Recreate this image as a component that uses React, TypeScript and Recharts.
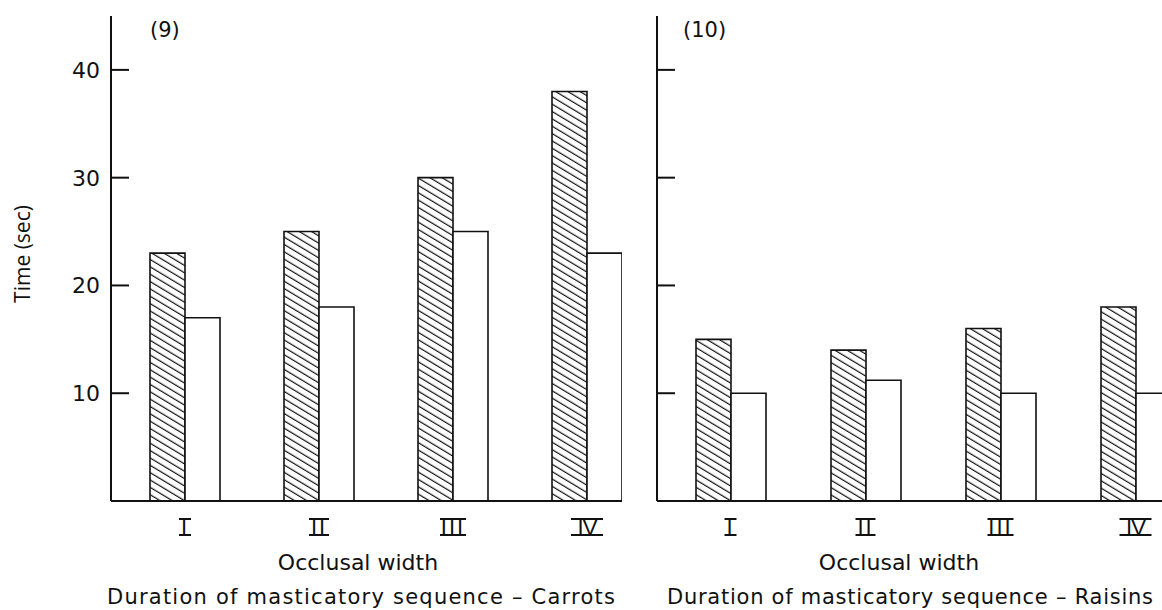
import { BarChart, Bar, XAxis, YAxis } from 'recharts';

// Occlusal width groups
const categories = ['I', 'II', 'III', 'IV'];

// Duration of masticatory sequence (sec)
const carrotsHatched = [23, 25, 30, 38];
const carrotsOpen = [17, 18, 25, 23];
const raisinsHatched = [15, 14, 16, 18];
const raisinsOpen = [10, 11.2, 10, 10];

const yTicks = [10, 20, 30, 40];
const yDomain = [0, 45];

const textFont = '"DejaVu Sans", sans-serif';
const AXIS_X = 20; // y axis position inside each panel svg

const carrotsData = categories.map((c, i) => ({
  group: c,
  hatched: carrotsHatched[i],
  open: carrotsOpen[i],
}));
const raisinsData = categories.map((c, i) => ({
  group: c,
  hatched: raisinsHatched[i],
  open: raisinsOpen[i],
}));

// width of the serif bars drawn above/below each roman numeral
const numeralWidth: Record<string, number> = { I: 12, II: 20, III: 26, IV: 32 };

function YTick({ y }: any) {
  return <line x1={AXIS_X} y1={y} x2={AXIS_X + 18} y2={y} stroke="#111" strokeWidth={2} />;
}

function XTick({ x, y, payload }: any) {
  const w = numeralWidth[payload.value] || 14;
  const top = y + 18;
  const base = y + 34;
  return (
    <g>
      <text
        x={x}
        y={base}
        textAnchor="middle"
        fontSize={22}
        fontFamily='"Liberation Sans", sans-serif'
        letterSpacing={payload.value === 'IV' ? -1 : 2}
        fill="#111"
      >
        {payload.value}
      </text>
      <line x1={x - w / 2} y1={top} x2={x + w / 2} y2={top} stroke="#111" strokeWidth={2} />
      <line x1={x - w / 2} y1={base} x2={x + w / 2} y2={base} stroke="#111" strokeWidth={2} />
    </g>
  );
}

function Panel({ data, id, padLeft, plotWidth }: any) {
  return (
    <BarChart
      width={AXIS_X + plotWidth}
      height={610}
      data={data}
      margin={{ top: 16, right: 0, bottom: 79, left: 0 }}
      barGap={0}
      barSize={35}
    >
      <defs>
        <pattern
          id={id}
          patternUnits="userSpaceOnUse"
          width={12}
          height={6.3}
          patternTransform="rotate(31)"
        >
          <rect width={12} height={6.3} fill="#fff" />
          <line x1={0} y1={3} x2={12} y2={3} stroke="#111" strokeWidth={1.2} />
        </pattern>
      </defs>
      <XAxis
        dataKey="group"
        padding={{ left: padLeft, right: 0 }}
        axisLine={{ stroke: '#111', strokeWidth: 2 }}
        tickLine={false}
        tickSize={0}
        tickMargin={0}
        height={30}
        tick={<XTick />}
        interval={0}
      />
      <YAxis
        domain={yDomain}
        ticks={yTicks}
        width={AXIS_X}
        axisLine={{ stroke: '#111', strokeWidth: 2 }}
        tickLine={false}
        tickSize={0}
        tickMargin={0}
        tick={<YTick />}
        allowDataOverflow
      />
      <Bar dataKey="hatched" fill={`url(#${id})`} stroke="#111" strokeWidth={1.6} isAnimationActive={false} />
      <Bar dataKey="open" fill="#fff" stroke="#111" strokeWidth={1.6} isAnimationActive={false} />
    </BarChart>
  );
}

export default function App() {
  return (
    <div
      style={{
        position: 'absolute',
        left: 0,
        top: 0,
        width: 1162,
        height: 610,
        background: '#fff',
        overflow: 'hidden',
      }}
    >
      <div style={{ position: 'absolute', left: 91, top: 0, width: 531, height: 610, overflow: 'hidden' }}>
        <Panel data={carrotsData} id="hatchCarrots" padLeft={7} plotWidth={543} />
      </div>
      <div style={{ position: 'absolute', left: 637, top: 0, width: 525, height: 610, overflow: 'hidden' }}>
        <Panel data={raisinsData} id="hatchRaisins" padLeft={6} plotWidth={546} />
      </div>
      <svg
        width={1162}
        height={610}
        style={{ position: 'absolute', left: 0, top: 0, pointerEvents: 'none' }}
        fontFamily={textFont}
        fill="#111"
      >
        {yTicks.map((t) => (
          <text key={t} x={100} y={501 - (t / 45) * 485} dy={8} textAnchor="end" fontSize={22}>
            {t}
          </text>
        ))}
        <text x={150} y={37} fontSize={21}>(9)</text>
        <text x={683} y={37} fontSize={21}>(10)</text>
        <text
          x={23}
          y={254}
          fontSize={21}
          fontFamily='"Open Sans", sans-serif'
          textAnchor="middle"
          transform="rotate(-90 23 254)"
          dy={7}
        >
          Time (sec)
        </text>
        <text x={358} y={570} fontSize={22} textAnchor="middle">Occlusal width</text>
        <text x={899} y={570} fontSize={22} textAnchor="middle">Occlusal width</text>
        <text x={107} y={604} fontSize={21} textLength={508} lengthAdjust="spacing">
          Duration  of  masticatory  sequence – Carrots
        </text>
        <text x={667} y={604} fontSize={21} textLength={486} lengthAdjust="spacing">
          Duration  of  masticatory  sequence – Raisins
        </text>
      </svg>
    </div>
  );
}
